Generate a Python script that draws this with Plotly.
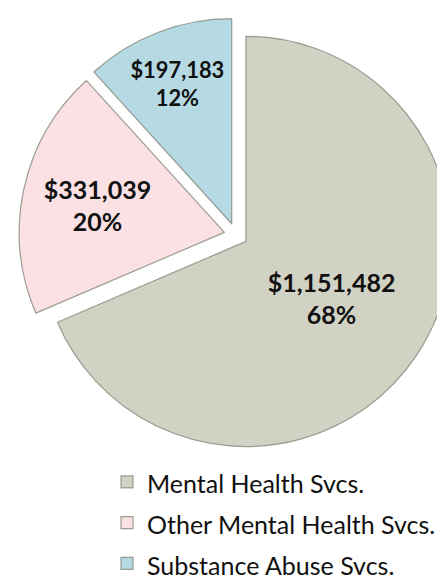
import plotly.graph_objects as go

# Slice data
categories = ["Mental Health Svcs.", "Other Mental Health Svcs.", "Substance Abuse Svcs."]
amounts = [1151482, 331039, 197183]
pct_labels = ["68%", "20%", "12%"]

slice_colors = ["#D1D2C4", "#FBE1E3", "#B6DAE4"]
edge_colors = "rgba(125,128,115,0.75)"

# legend rows are spaced wider than the text size, so the legend font is
# larger and each label is drawn a bit smaller inside a span
legend_labels = [f"<span style='font-size:25px'>{c}</span>" for c in categories]

fig = go.Figure()

fig.add_trace(go.Pie(
    labels=legend_labels,
    values=amounts,
    text=pct_labels,
    texttemplate="$%{value:,}<br>%{text}",
    textposition="inside",
    insidetextorientation="horizontal",
    textfont=dict(family="Lato", size=25, color="#111111", weight="bold"),
    sort=False,
    direction="clockwise",
    rotation=0,
    pull=[0.058, 0.058, 0.058],
    marker=dict(colors=slice_colors, line=dict(color=edge_colors, width=1.2)),
    domain=dict(x=[0.0247, 1.0], y=[0.232, 0.983]),
    hoverinfo="value+percent",
))

fig.update_layout(
    width=445,
    height=578,
    # keep the legend from pushing the margins and shrinking the pie
    margin=dict(l=0, r=0, t=0, b=0, autoexpand=False),
    paper_bgcolor="white",
    plot_bgcolor="white",
    showlegend=True,
    legend=dict(
        orientation="v",
        x=0.2225, xanchor="left",
        y=0.224, yanchor="top",
        font=dict(family="Lato", size=29, color="#111111"),
        itemwidth=30,
        tracegroupgap=0,
        bgcolor="rgba(0,0,0,0)",
    ),
)

fig.write_html("out.html")
